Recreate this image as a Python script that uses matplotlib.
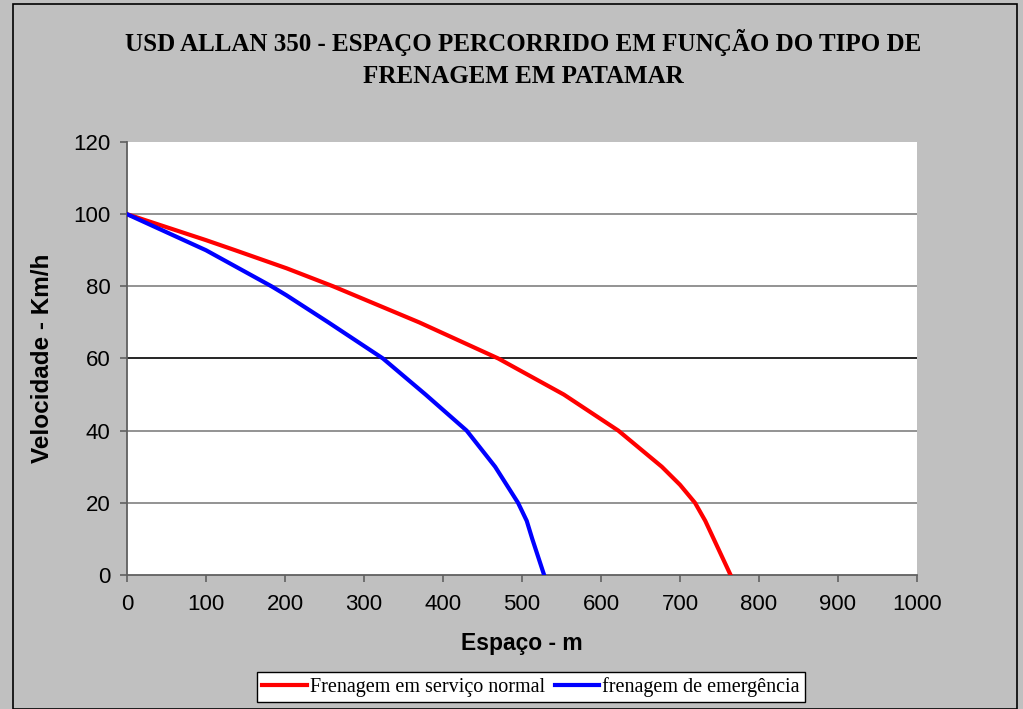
import matplotlib
matplotlib.use('Agg')
from matplotlib import pyplot as plt
from matplotlib.patches import Rectangle

# velocidade (km/h) e espaço percorrido (m)
normal_v = [100, 92.8, 90, 85, 80, 70, 60, 50, 40, 30, 25, 20, 15, 0]
normal_m = [0, 100, 137, 202, 261, 370, 470, 553, 622, 677, 700, 719, 732, 764]

emerg_v = [100, 90, 80, 77.5, 70, 60, 50, 40, 30, 20, 15, 10, 0]
emerg_m = [0, 100, 183, 202, 255, 324, 378, 430, 466, 495, 506, 513, 528]

labels = ['Frenagem em serviço normal', 'frenagem de emergência']
title = 'USD ALLAN 350 - ESPAÇO PERCORRIDO EM FUNÇÃO DO TIPO DE\nFRENAGEM EM PATAMAR'

W, H = 1023, 709
fig = plt.figure(figsize=(W/100, H/100), dpi=100)
fig.patch.set_facecolor('#C0C0C0')

# moldura do gráfico
fig.patches.append(Rectangle((13/W, 0), (1017-13)/W, (H-4)/H, transform=fig.transFigure,
                             fill=False, edgecolor='black', lw=1.2))

ax = fig.add_axes([127/W, 1-575/H, (917-127)/W, (575-142)/H])
ax.set_facecolor('white')

for v in [20, 40, 60, 80, 100]:
    ax.axhline(v, color='black' if v == 60 else '#808080', lw=1.2, zorder=1)

ax.plot(normal_m, normal_v, color='#FF0000', lw=3, label=labels[0], zorder=3)
ax.plot(emerg_m, emerg_v, color='#0000FF', lw=3, label=labels[1], zorder=3)

ax.set_xlim(0, 1000)
ax.set_ylim(0, 120)
ax.set_xticks(range(0, 1001, 100))
ax.set_yticks(range(0, 121, 20))

for s in ['top', 'right']:
    ax.spines[s].set_visible(False)
for s in ['left', 'bottom']:
    ax.spines[s].set_color('#606060')
    ax.spines[s].set_linewidth(1.3)

ax.tick_params(axis='both', direction='out', length=5, width=1.2, color='#606060',
               labelsize=16)
ax.tick_params(axis='x', pad=9)
ax.tick_params(axis='y', pad=7)
for t in ax.get_xticklabels() + ax.get_yticklabels():
    t.set_family('Liberation Sans')

ax.set_xlabel('Espaço - m', family='Liberation Sans', fontsize=16.5, weight='bold', labelpad=12)
ax.set_ylabel('Velocidade - Km/h', family='Liberation Sans', fontsize=17.5, weight='bold', labelpad=14)

fig.text(523/W, 1-58.5/H, title, ha='center', va='center', family='Liberation Serif',
         weight='bold', fontsize=18, linespacing=1.55)

leg = fig.legend(loc='center', bbox_to_anchor=(531/W, 1-687/H), ncol=2, frameon=True,
                 fancybox=False, edgecolor='black', framealpha=1,
                 prop={'family': 'Liberation Serif', 'size': 14.5},
                 handlelength=2.2, handletextpad=0.15, columnspacing=0.5,
                 borderpad=0.25, borderaxespad=0)
leg.get_frame().set_linewidth(1.0)

fig.savefig('out.png', dpi=100, facecolor=fig.get_facecolor())
